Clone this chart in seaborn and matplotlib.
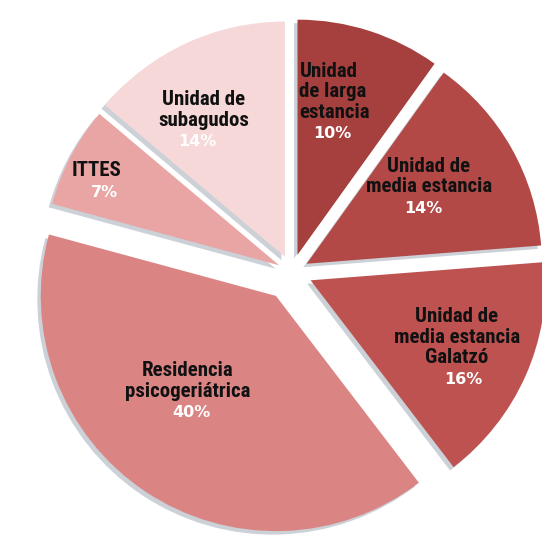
import numpy as np
import matplotlib
matplotlib.use("Agg")
import matplotlib.pyplot as plt
import matplotlib.patheffects as pe
import seaborn as sns

# Distribution of places by care unit (clockwise from 12 o'clock)
units = [
    "Unidad\nde larga\nestancia",
    "Unidad de\nmedia estancia",
    "Unidad de\nmedia estancia\nGalatzó",
    "Residencia\npsicogeriátrica",
    "ITTES",
    "Unidad de\nsubagudos",
]
shares = [10, 14, 16, 40, 7, 14]
pct_labels = ["10%", "14%", "16%", "40%", "7%", "14%"]

colors = ["#a6403e", "#b24947", "#bd5250", "#da8584", "#e9a5a4", "#f5d8d7"]
explode = [0.075, 0.07, 0.085, 0.12, 0.06, 0.07]

# text layout per wedge: radial distance of the percentage, angular nudge, label alignment
pct_r = [0.60, 0.61, 0.84, 0.72, 0.85, 0.67]
ang_nudge = [1.5, -3.5, -8.0, -1.7, 4.6, 11.0]
label_ha = ["left", "center", "center", "center", "center", "center"]
label_dx = [-33, 5, -6, -4, -8, 6]

sns.set_theme(style="white")
label_font = ["Roboto Condensed", "PT Sans Narrow", "DejaVu Sans"]

W, H = 542, 538
fig = plt.figure(figsize=(W / 100, H / 100), dpi=100)
ax = fig.add_axes([0, 0, 1, 1])

wedges, _ = ax.pie(
    shares,
    colors=colors,
    startangle=90,
    counterclock=False,
    explode=explode,
    radius=0.98,
    wedgeprops=dict(linewidth=0),
)
for w in wedges:
    w.set_path_effects([
        pe.SimplePatchShadow(offset=(-2.5, -2.5), shadow_rgbFace="#8d9ba6", alpha=0.45),
        pe.Normal(),
    ])

cx0, cy0 = 292, 272
R = 240.0
ax.set_xlim(-cx0 / R, (W - cx0) / R)
ax.set_ylim(-(H - cy0) / R, cy0 / R)
ax.set_aspect("equal")
ax.axis("off")

for i, w in enumerate(wedges):
    mid = 0.5 * (w.theta1 + w.theta2) + ang_nudge[i]
    t = np.deg2rad(mid)
    x = pct_r[i] * np.cos(t)
    y = pct_r[i] * np.sin(t)
    ax.text(x, y, pct_labels[i], ha="center", va="center", color="white",
            fontsize=11.5, fontweight="bold", family="DejaVu Sans")
    ax.annotate(units[i], xy=(x, y), xytext=(label_dx[i], 12), textcoords="offset pixels",
                ha=label_ha[i], va="bottom", color="#111111", fontsize=15,
                fontweight="bold", linespacing=1.1, multialignment=label_ha[i],
                family=label_font)

fig.savefig("out.png", dpi=100, facecolor="white")
